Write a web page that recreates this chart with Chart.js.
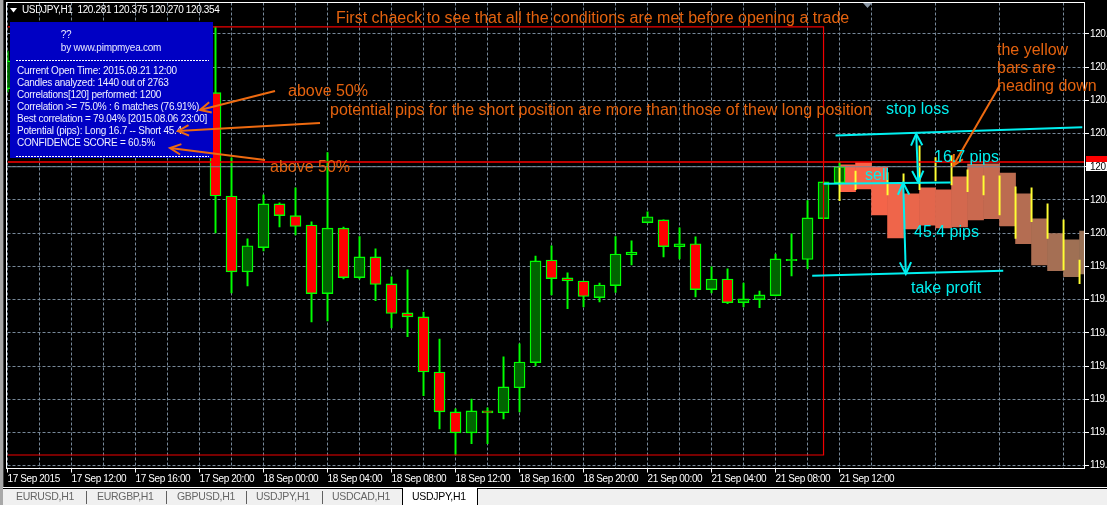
<!DOCTYPE html>
<html><head><meta charset="utf-8">
<script src="https://cdn.jsdelivr.net/npm/chart.js@4/dist/chart.umd.min.js"></script>
<style>html,body{margin:0;padding:0;background:#000;overflow:hidden}canvas{display:block}</style>
</head><body>
<canvas id="c" width="1107" height="505" style="width:1107px;height:505px"></canvas>
<script>
// ---- data ----
const candleIndex = [0,13,14,15,16,17,18,19,20,21,22,23,24,25,26,27,28,29,30,31,32,33,34,35,36,37,38,39,40,41,42,43,44,45,46,47,48,49,50,51,52];
const opens  = [120.706,120.689,120.222,119.879,119.989,120.186,120.133,120.091,119.781,120.077,119.853,119.947,119.825,119.694,119.676,119.427,119.247,119.152,119.251,119.243,119.356,119.469,119.933,119.852,119.838,119.763,119.817,119.957,120.102,120.114,119.993,120.006,119.799,119.847,119.740,119.754,119.772,119.930,119.935,120.120,120.281];
const highs  = [120.877,120.986,120.394,120.028,120.227,120.191,120.259,120.105,120.418,120.082,120.039,119.983,119.857,119.888,119.698,119.576,119.260,119.305,119.265,119.495,119.554,119.951,119.997,119.875,119.838,119.829,120.039,120.019,120.150,120.114,120.078,120.037,119.902,119.893,119.829,119.793,119.960,120.051,120.201,120.286,120.375];
const lows   = [120.692,120.055,119.784,119.816,119.974,120.082,120.046,119.653,119.658,119.847,119.847,119.749,119.626,119.587,119.320,119.170,119.052,119.103,119.103,119.215,119.247,119.454,119.775,119.713,119.721,119.744,119.786,119.911,120.100,119.947,119.938,119.766,119.784,119.736,119.721,119.718,119.771,119.861,119.894,120.119,120.270];
const closes = [120.832,120.222,119.879,119.997,120.186,120.133,120.084,119.781,120.077,119.853,119.947,119.822,119.691,119.676,119.427,119.247,119.152,119.251,119.242,119.360,119.472,119.929,119.849,119.838,119.768,119.820,119.960,119.969,120.128,119.993,120.006,119.799,119.847,119.740,119.757,119.775,119.938,119.936,120.123,120.286,120.354];

const forecastIndex = [52,53,54,55,56,57,58,59,60,61,62,63,64,65,66,67];
const forecastTop    = [120.363,120.373,120.352,120.277,120.232,120.259,120.250,120.308,120.366,120.367,120.326,120.232,120.119,120.052,120.024,120.064];
const forecastBottom = [120.242,120.254,120.137,120.033,120.073,120.090,120.078,120.082,120.114,120.119,120.087,120.007,119.911,119.885,119.857,119.870];
const forecastWickHigh = [120.349,120.335,null,120.328,120.322,120.448,120.396,120.405,120.340,120.313,120.313,120.263,120.259,120.186,120.114,119.933];
const forecastWickLow  = [120.201,120.250,null,120.227,120.277,120.250,120.290,120.272,120.242,120.227,120.137,120.030,120.106,120.030,119.888,119.826];
const forecastColors = ['#fb6246','#f96348','#f46449','#ef654a','#e9664b','#e2664c','#dc674d','#d3684e','#ca694f','#c46a50','#bc6c50','#b46d52','#ad6e52','#a56f54','#9f7054','#997155'];

const xTickLabels = ['17 Sep 2015','17 Sep 12:00','17 Sep 16:00','17 Sep 20:00','18 Sep 00:00','18 Sep 04:00','18 Sep 08:00','18 Sep 12:00','18 Sep 16:00','18 Sep 20:00','21 Sep 00:00','21 Sep 04:00','21 Sep 08:00','21 Sep 12:00'];
const yTickValues = [120.954,120.804,120.654,120.504,120.354,120.204,120.054,119.904,119.754,119.604,119.454,119.304,119.154,119.004];
const yTickLabels = ['120.','120.','120.','120.','120.','120.','120.','119.','119.','119.','119.','119.','119.','119.'];

const headerText = 'USDJPY,H1  120.281 120.375 120.270 120.354';
const tabLabels = ['EURUSD,H1','EURGBP,H1','GBPUSD,H1','USDJPY,H1','USDCAD,H1','USDJPY,H1'];
const panelTitle = ['??','by www.pimpmyea.com'];
const panelLines = ['Current Open Time: 2015.09.21 12:00','Candles analyzed: 1440 out of 2763','Correlations[120] performed: 1200','Correlation >= 75.0% : 6 matches (76.91%)','Best correlation = 79.04% [2015.08.06 23:00]','Potential (pips): Long 16.7 -- Short 45.4','CONFIDENCE SCORE = 60.5%'];

const dayHigh = 120.375, bid = 120.354, boxTop = 120.986, boxBottom = 119.052, boxRightIndex = 51;
const stopLossLine = [[51.75,120.495],[67.17,120.533]];
const entryLine = [[51,120.277],[58.94,120.283]];
const takeProfitLine = [[50.29,119.862],[62.23,119.884]];
const arrowShort = [[55.98,120.281],[56.14,119.870]];
const arrowLong = [[56.79,120.503],[56.92,120.283]];

// ---- chart ----
const FONT = '"Liberation Sans", Arial, sans-serif';
const ORANGE = '#e4620e', CYAN = '#00f0f0', GRID = '#778899';
const X_MAX = 67.34;
const pts = a => a.map(p => ({x:p[0], y:p[1]}));
const flat = a => ({type:'line', data:pts(a), borderColor:CYAN, borderWidth:2, pointRadius:0, order:1});
const red = (a,w,c) => ({type:'line', data:pts(a), borderColor:c, borderWidth:w, pointRadius:0, order:2});

const datasets = [
  flat(stopLossLine), flat(entryLine), flat(takeProfitLine), flat(arrowShort), flat(arrowLong),
  red([[0,boxTop],[boxRightIndex,boxTop],[boxRightIndex,boxBottom],[0,boxBottom]],1.2,'#f00000'),
  red([[0,dayHigh],[X_MAX,dayHigh]],1.5,'#ff0000'),
  red([[0,bid],[X_MAX,bid]],1,GRID),
  {type:'bar', barThickness:1.3, backgroundColor:'#ffff33', order:3,
   data:forecastIndex.map((x,i)=>({x,y:[forecastWickLow[i],forecastWickHigh[i]]})).filter(d=>d.y[0]!==null)},
  {type:'bar', barThickness:11, borderWidth:1.4, borderColor:'#00ff00', borderSkipped:false, order:4,
   backgroundColor:candleIndex.map((_,i)=>closes[i]>=opens[i]?'#006400':'#ff0000'),
   data:candleIndex.map((x,i)=>({x,y:[opens[i],closes[i]]}))},
  {type:'bar', barThickness:1.3, backgroundColor:'#00ff00', order:5,
   data:candleIndex.map((x,i)=>({x,y:[lows[i],highs[i]]}))},
  {type:'bar', barThickness:16, backgroundColor:forecastColors, order:6,
   data:forecastIndex.map((x,i)=>({x:x+0.5,y:[forecastBottom[i],forecastTop[i]]}))}
];

function arrow(ctx,x1,y1,x2,y2,size){
  const a=Math.atan2(y2-y1,x2-x1);
  ctx.beginPath();
  ctx.moveTo(x2-size*Math.cos(a-0.45),y2-size*Math.sin(a-0.45));
  ctx.lineTo(x2,y2);
  ctx.lineTo(x2-size*Math.cos(a+0.45),y2-size*Math.sin(a+0.45));
  ctx.stroke();
}
function T(ctx,s,x,y,font,color,align,ls){
  ctx.font=font; ctx.fillStyle=color; ctx.textAlign=align||'left'; ctx.textBaseline='middle';
  ctx.letterSpacing=ls||'0px'; ctx.fillText(s,x,y);
}

const overlay = {
  id:'overlay',
  beforeDraw(c){ const g=c.ctx; g.save(); g.fillStyle='#000'; g.fillRect(0,0,1107,505); g.restore(); g.letterSpacing='-0.4px'; },
  afterDraw(c){
    const g=c.ctx, X=c.scales.x, Y=c.scales.y; g.save();
    const small='10px '+FONT, big='16px '+FONT, tight='-0.25px';
    // frame
    g.strokeStyle='#fff'; g.lineWidth=1; g.strokeRect(6.5,2.5,1078,466);
    // left strip
    g.fillStyle='#a8a8a8'; g.fillRect(0,0,3,505); g.fillStyle='#404040'; g.fillRect(3,0,1,490);
    // header
    g.fillStyle='#fff'; g.beginPath(); g.moveTo(10,8); g.lineTo(17,8); g.lineTo(13.5,12.5); g.closePath(); g.fill();
    T(g,headerText,22,10.5,small,'#fff','left','-0.35px');
    g.fillStyle='#8a96a4'; g.beginPath(); g.moveTo(863,3); g.lineTo(872,3); g.lineTo(867.5,8); g.closePath(); g.fill();
    // price tags
    g.fillStyle='#ff0000'; g.fillRect(1086,156,21,7);
    g.fillStyle='#fff'; g.fillRect(1086,162,21,9);
    T(g,'120.',1090,Y.getPixelForValue(bid),small,'#000','left',tight);
    // info panel
    g.fillStyle='#0000c4'; g.fillRect(10,22,203,136);
    T(g,panelTitle[0],66,35,small,'#e8e8ff','center',tight);
    T(g,panelTitle[1],111,48,small,'#e8e8ff','center',tight);
    g.strokeStyle='#fff'; g.setLineDash([2,1]);
    [60.5,156.5].forEach(y=>{g.beginPath();g.moveTo(16,y);g.lineTo(209,y);g.stroke();});
    g.setLineDash([]);
    panelLines.forEach((s,i)=>T(g,s,17,71.5+i*12,small,'#f0f0ff','left',tight));
    // orange notes
    T(g,'First chaeck to see that all the conditions are met before opening a trade',336,19,big,ORANGE);
    T(g,'above 50%',288,92,big,ORANGE);
    T(g,'potential pips for the short position are more than those of thew long position',330,111,big,ORANGE);
    T(g,'above 50%',270,168,big,ORANGE);
    T(g,'the yellow',997,51,big,ORANGE);
    T(g,'bars are',997,69,big,ORANGE);
    T(g,'heading down',997,87,big,ORANGE);
    g.strokeStyle='#ee6a10'; g.lineWidth=2;
    [[275,91,200,110],[320,123,178,131],[265,160,170,148],[1000,85,953,166]].forEach(a=>{
      g.beginPath(); g.moveTo(a[0],a[1]); g.lineTo(a[2],a[3]); g.stroke();
      arrow(g,a[0],a[1],a[2],a[3],12);
    });
    // cyan arrow heads & notes
    g.strokeStyle=CYAN; g.lineWidth=2;
    [arrowShort,arrowLong].forEach(a=>{
      const x1=X.getPixelForValue(a[0][0]),y1=Y.getPixelForValue(a[0][1]),x2=X.getPixelForValue(a[1][0]),y2=Y.getPixelForValue(a[1][1]);
      arrow(g,x1,y1,x2,y2,13); arrow(g,x2,y2,x1,y1,13);
    });
    T(g,'stop loss',886,110,big,CYAN);
    T(g,'16.7 pips',934,158,big,CYAN);
    T(g,'sell',865,176,big,CYAN);
    T(g,'45.4 pips',914,233,big,CYAN);
    T(g,'take profit',911,289,big,CYAN);
    // tab bar
    g.fillStyle='#fff'; g.fillRect(0,487,1107,1);
    g.fillStyle='#000'; g.fillRect(0,488,1107,1);
    g.fillStyle='#f0f0f0'; g.fillRect(3,489,1104,16);
    g.fillStyle='#a8a8a8'; g.fillRect(0,487,3,18);
    g.fillStyle='#fff'; g.fillRect(403,488,74,17);
    g.fillStyle='#606060'; [86,166,246,322].forEach(x=>g.fillRect(x,491,1,13));
    g.fillStyle='#000'; g.fillRect(402,488,1,17); g.fillRect(477,488,1,17);
    const tabX=[16,97,177,256,332,412];
    tabLabels.forEach((s,i)=>T(g,s,tabX[i],497,'10.5px '+FONT,i===5?'#000':'#666','left','-0.3px'));
    g.restore();
  }
};

new Chart(document.getElementById('c'),{
  type:'bar',
  data:{datasets},
  plugins:[overlay],
  options:{
    responsive:false, animation:false, events:[],
    datasets:{bar:{grouped:false}},
    layout:{padding:{left:7.5,top:2.5,right:0,bottom:0}},
    plugins:{legend:{display:false},tooltip:{enabled:false},title:{display:false}},
    scales:{
      x:{type:'linear',min:0,max:X_MAX,offset:false,
        afterFit(s){s.height=36.5;s.paddingLeft=0;s.paddingRight=0;},
        border:{display:false,dash:[3,2]},
        grid:{offset:false,color:GRID,lineWidth:1,tickLength:4,tickColor:ctx=>ctx.tick&&ctx.tick.value%4===0?'#fff':'rgba(0,0,0,0)',tickBorderDash:[]},
        ticks:{stepSize:2,includeBounds:false,autoSkip:false,maxRotation:0,minRotation:0,align:'start',color:'#fff',padding:1,font:{family:FONT,size:10},
          callback:v=>v%4===0?xTickLabels[v/4]:''}},
      y:{type:'linear',position:'right',min:118.991,max:121.096,
        afterFit(s){s.width=22;s.paddingTop=0;s.paddingBottom=0;},
        afterBuildTicks(s){s.ticks=yTickValues.map(v=>({value:v}));},
        border:{display:false,dash:[3,2]},
        grid:{color:GRID,lineWidth:1,tickLength:4,tickColor:'#fff',tickBorderDash:[]},
        ticks:{color:'#fff',padding:1,autoSkip:false,font:{family:FONT,size:10},
          callback:(v,i)=>yTickLabels[i]}}
    }
  }
});
</script>
</body></html>
